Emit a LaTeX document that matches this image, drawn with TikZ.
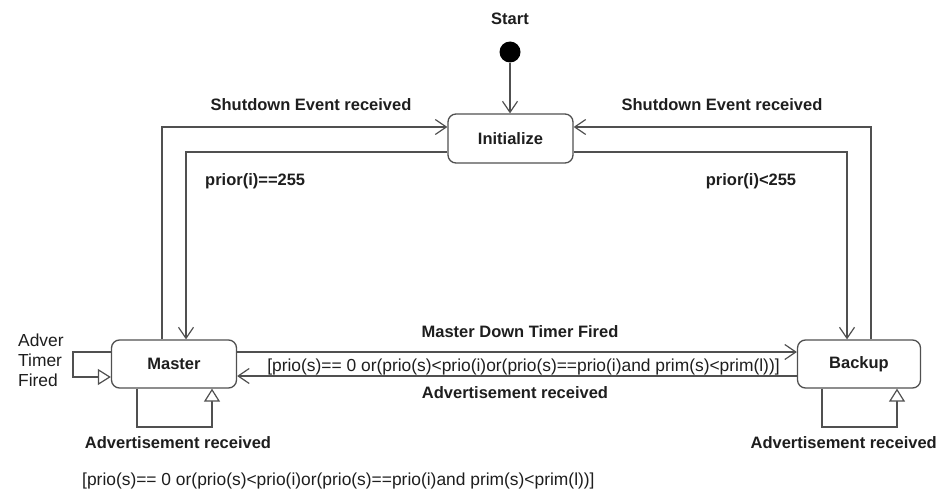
\documentclass[tikz,border=0pt]{standalone}
\usepackage{fontspec}
\setmainfont{Liberation Sans}
\usetikzlibrary{arrows.meta}
\definecolor{edge}{HTML}{505050}
\definecolor{ink}{HTML}{1E1E1E}
\begin{document}
\begin{tikzpicture}[x=1pt,y=-1pt,
  state/.style={draw=edge,line width=1.3pt,rounded corners=8pt,fill=white,
    minimum height=48pt,inner sep=0pt,text=ink,
    font=\fontsize{16.5}{20}\bfseries\selectfont},
  lbl/.style={inner sep=0pt,text=ink,font=\fontsize{16.5}{20}\bfseries\selectfont},
  guard/.style={inner sep=0pt,text=ink,font=\fontsize{17.4}{20}\selectfont},
  trans/.style={draw=edge,line width=1.3pt,
    -{Straight Barb[length=11pt,width=15pt,line width=1.2pt]}},
  selfloop/.style={draw=edge,line width=1.3pt,
    -{Triangle[open,length=13pt,width=16pt,line width=1.2pt,fill=white]}}]
  \useasboundingbox[fill=white] (0,0) rectangle (944,492);

  % initial pseudo-state
  \node[lbl] (startlbl) at (510,19) {Start};
  \node[circle,fill=black,minimum size=21pt,inner sep=0pt] (start) at (510,52) {};

  % states
  \node[state,minimum width=125pt,minimum height=49pt] (init) at (510.5,138.5) {Initialize};
  \node[state,minimum width=125pt] (master) at (174,364) {Master};
  \node[state,minimum width=123pt] (backup) at (859,364) {Backup};

  % routing points
  \coordinate (oL) at (162,127);
  \coordinate (iL) at (186,152);
  \coordinate (oR) at (871,127);
  \coordinate (iR) at (847,152);
  \coordinate (mU) at (0,352);
  \coordinate (mD) at (0,376);
  \coordinate (lA) at (73,352);
  \coordinate (lB) at (73,377);
  \coordinate (bA) at (137,427);
  \coordinate (bB) at (212,427);
  \coordinate (cA) at (822,427);
  \coordinate (cB) at (897,427);

  % transitions
  \draw[trans] (start) -- (init.north -| start);
  \draw[trans] (master.north -| oL) |- (init.west |- oL);
  \draw[trans] (init.west |- iL) -| (master.north -| iL);
  \draw[trans] (backup.north -| oR) |- (init.east |- oR);
  \draw[trans] (init.east |- iR) -| (backup.north -| iR);
  \draw[trans] (master.east |- mU) -- (backup.west |- mU);
  \draw[trans] (backup.west |- mD) -- (master.east |- mD);

  % self transitions
  \draw[selfloop] (master.west |- lA) -- (lA) -- (lB) -- (master.west |- lB);
  \draw[selfloop] (master.south -| bA) -- (bA) -- (bB) -- (master.south -| bB);
  \draw[selfloop] (backup.south -| cA) -- (cA) -- (cB) -- (backup.south -| cB);

  % transition labels
  \node[lbl] (shutL) at (311,105) {Shutdown Event received};
  \node[lbl] (shutR) at (722,105) {Shutdown Event received};
  \node[lbl,anchor=west] (prioM) at (205,181) {prior(i)==255};
  \node[lbl] (prioB) at (751,181) {prior(i)<255};
  \node[lbl] (mdtf) at (520,332) {Master Down Timer Fired};
  \node[guard] (gMid) at (523.5,367) {[prio(s)== 0 or(prio(s)<prio(i)or(prio(s)==prio(i)and prim(s)<prim(l))]};
  \node[lbl] (advMid) at (515,393) {Advertisement received};
  \node[guard,align=left,anchor=north west,font=\fontsize{17.4}{20}\selectfont] (adver) at (18,334) {Adver\\Timer\\Fired};
  \node[lbl] (advM) at (178,443) {Advertisement received};
  \node[lbl,anchor=east] (advB) at (937,443) {Advertisement received};
  \node[guard,anchor=west] (gBot) at (82,481) {[prio(s)== 0 or(prio(s)<prio(i)or(prio(s)==prio(i)and prim(s)<prim(l))]};
\end{tikzpicture}
\end{document}
